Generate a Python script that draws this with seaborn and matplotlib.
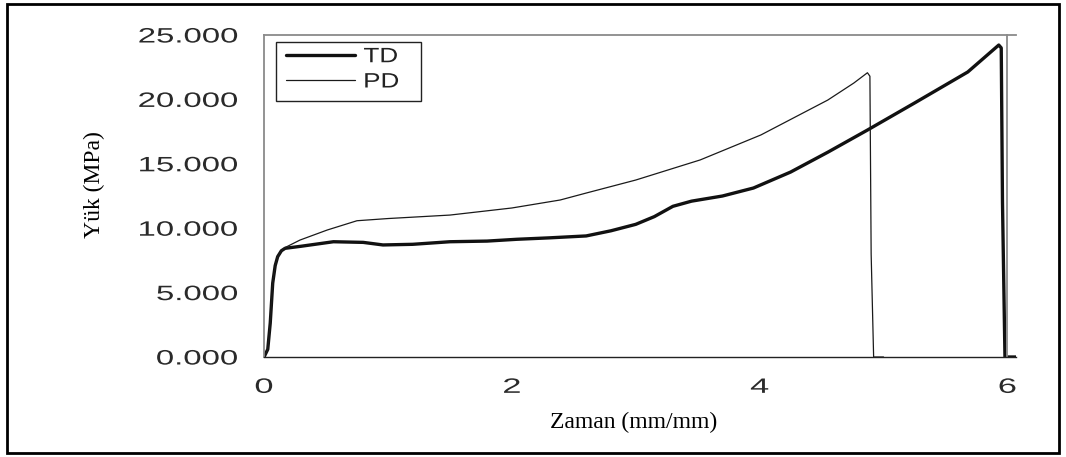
import matplotlib
matplotlib.use("Agg")
import matplotlib.pyplot as plt
import seaborn as sns
import pandas as pd
from matplotlib.patches import Rectangle
from matplotlib.patheffects import AbstractPathEffect
from matplotlib.transforms import Affine2D

# Strain (mm/mm) and load (MPa) readings for the two directions
td_x = [0.00, 0.03, 0.05, 0.07, 0.09, 0.11, 0.14, 0.17, 0.30, 0.56, 0.80, 0.96,
        1.20, 1.50, 1.80, 2.04, 2.30, 2.60, 2.80, 3.00, 3.15, 3.30, 3.45, 3.70,
        3.95, 4.25, 4.55, 4.87, 5.25, 5.68, 5.93, 5.95, 5.96, 5.98, 6.07]
td_y = [0, 600, 2640, 5740, 7100, 7790, 8250, 8440, 8600, 8950, 8900, 8700,
        8750, 8950, 9000, 9140, 9250, 9400, 9800, 10300, 10900, 11700, 12100, 12500,
        13120, 14360, 15900, 17620, 19720, 22130, 24220, 24000, 12000, 0, 0]

pd_x = [0.00, 0.03, 0.05, 0.07, 0.09, 0.11, 0.14, 0.17, 0.29, 0.51, 0.75, 1.00,
        1.50, 2.00, 2.39, 2.60, 3.00, 3.52, 4.01, 4.55, 4.76, 4.87, 4.89, 4.90,
        4.92, 5.00]
pd_y = [0, 600, 2640, 5740, 7100, 7790, 8250, 8500, 9080, 9860, 10580, 10750,
        11020, 11570, 12190, 12730, 13740, 15300, 17240, 19950, 21270, 22070, 21800, 8000,
        0, 0]

series_names = ["TD", "PD"]
x_ticks = [0, 2, 4, 6]
y_ticks = [0, 5000, 10000, 15000, 20000, 25000]
y_tick_labels = ["0.000", "5.000", "10.000", "15.000", "20.000", "25.000"]


class Widen(AbstractPathEffect):
    """Draw text glyphs stretched horizontally around a fixed anchor edge."""

    def __init__(self, sx, anchor="left"):
        super().__init__()
        self.sx = sx
        self.anchor = anchor

    def draw_path(self, renderer, gc, tpath, affine, rgbFace=None):
        ext = tpath.get_extents()
        if self.anchor == "right":
            x0 = ext.x1
        elif self.anchor == "center":
            x0 = 0.5 * (ext.x0 + ext.x1)
        else:
            x0 = ext.x0
        stretch = Affine2D().translate(-x0, 0).scale(self.sx, 1).translate(x0, 0)
        renderer.draw_path(gc, tpath, stretch + affine, rgbFace)


sns.set_theme(style="white")
plt.rcParams["font.family"] = ["Liberation Sans", "DejaVu Sans"]

df = pd.concat([
    pd.DataFrame({"x": td_x, "y": td_y, "seri": series_names[0]}),
    pd.DataFrame({"x": pd_x, "y": pd_y, "seri": series_names[1]}),
])

fig = plt.figure(figsize=(10.66, 4.57), dpi=100)
ax = fig.add_axes([0.2477, 0.2188, 0.7055, 0.7046])

sns.lineplot(data=df[df.seri == "TD"], x="x", y="y", ax=ax, color="#111111",
             linewidth=2.4, sort=False, estimator=None, label="TD")
sns.lineplot(data=df[df.seri == "PD"], x="x", y="y", ax=ax, color="#1a1a1a",
             linewidth=0.9, sort=False, estimator=None, label="PD")

ax.set_xlim(0, 6.07)
ax.set_ylim(0, 25000)
ax.set_xticks(x_ticks)
ax.set_xticklabels([str(t) for t in x_ticks])
ax.set_yticks(y_ticks)
ax.set_yticklabels(y_tick_labels)

ax.tick_params(axis="both", which="major", direction="out", width=1,
               colors="#555555", labelcolor="#2a2a2a", labelsize=15)
ax.tick_params(axis="y", length=7.5, pad=11)
ax.tick_params(axis="x", length=4, pad=11)

for side in ["left", "top", "right"]:
    ax.spines[side].set_color("#8a8a8a")
    ax.spines[side].set_linewidth(1.3)
ax.spines["right"].set_position(("data", 6.0))
ax.spines["bottom"].set_color("#222222")
ax.spines["bottom"].set_linewidth(1.0)

ax.set_xlabel("Zaman (mm/mm)", family="Liberation Serif", fontsize=17,
              color="black")
ax.set_ylabel("Yük (MPa)", family="Liberation Serif", fontsize=17,
              color="black")
ax.xaxis.set_label_coords(0.491, -0.17)
ax.yaxis.set_label_coords(-0.211, 0.537)

# Legend entries without their own frame; the box is drawn separately
leg = ax.legend(loc="upper left", bbox_to_anchor=(0.029, 0.962), fontsize=15,
                frameon=False, handlelength=3.3, handletextpad=0.43,
                borderpad=0.0, labelspacing=0.3, borderaxespad=0.0)
for t in leg.get_texts():
    t.set_color("#222222")
    t.set_path_effects([Widen(1.25, "left")])
ax.add_patch(Rectangle((0.016, 0.795), 0.1928, 0.183, transform=ax.transAxes,
                       fill=False, edgecolor="#222222", linewidth=1.0, zorder=5))

fig.patches.append(Rectangle((7 / 1066, 4 / 457), 1052 / 1066, 449 / 457,
                             transform=fig.transFigure, fill=False,
                             edgecolor="black", linewidth=2))

# Wide digit style on the tick labels, applied to the ticks that are drawn
fig.canvas.draw()
for tick in ax.yaxis.get_major_ticks():
    tick.label1.set_path_effects([Widen(1.58, "right")])
for tick in ax.xaxis.get_major_ticks():
    tick.label1.set_path_effects([Widen(1.65, "center")])

fig.savefig("out.png", dpi=100)
